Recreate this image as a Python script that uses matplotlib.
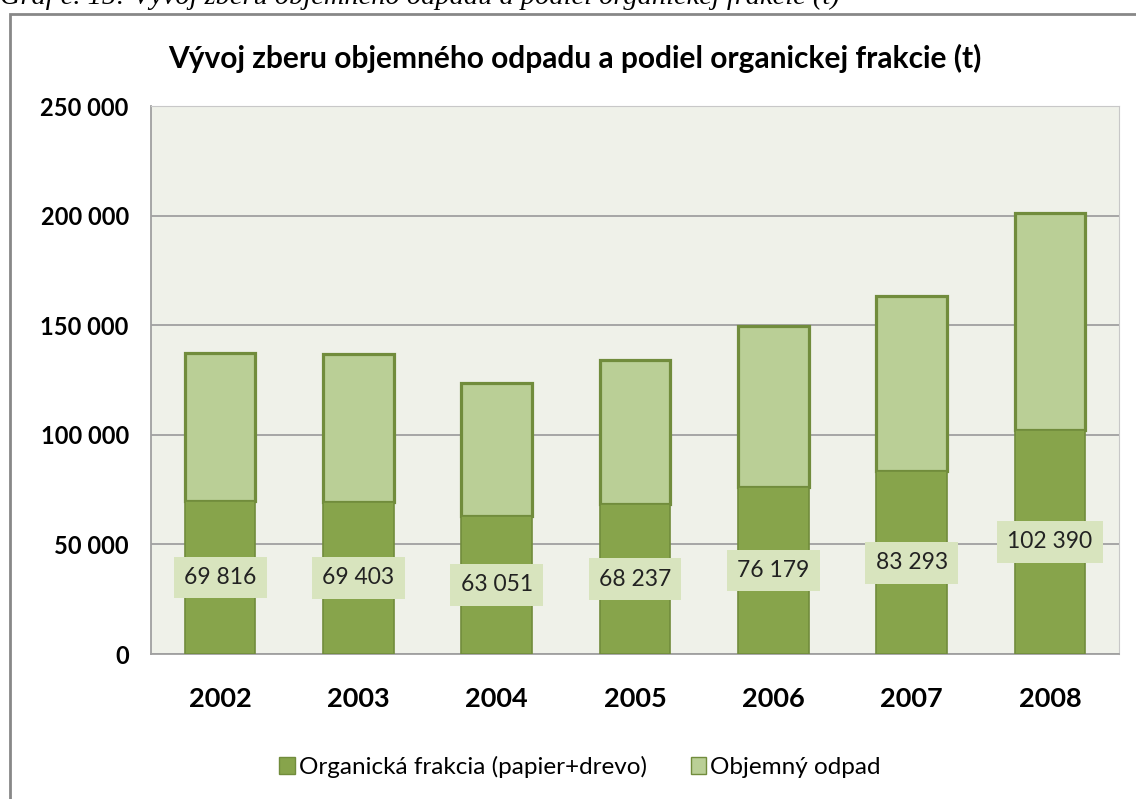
import numpy as np
import matplotlib.pyplot as plt
from matplotlib.patches import Rectangle, Patch

plt.rcParams['font.family'] = ['Lato', 'DejaVu Sans']

years = ['2002', '2003', '2004', '2005', '2006', '2007', '2008']
organic = [69816, 69403, 63051, 68237, 76179, 83293, 102390]
bulk = [67274, 67317, 60719, 65883, 73591, 80167, 98930]
yticks = [0, 50000, 100000, 150000, 200000, 250000]

dark = '#87A44B'
light = '#BACF96'
edge = '#718C3C'

fig = plt.figure(figsize=(11.36, 7.99), dpi=100)
ax = fig.add_axes([151/1136, 1 - 654/799, 968/1136, 548/799])

x = np.arange(len(years))
ax.bar(x, organic, width=0.51, color=dark, edgecolor=edge, linewidth=1.2, zorder=3,
       label='Organická frakcia (papier+drevo)')
ax.bar(x, bulk, width=0.51, bottom=organic, color=light, edgecolor=edge, linewidth=2.3,
       zorder=2, label='Objemný odpad')

for xi, v in zip(x, organic):
    s = '{:,}'.format(v).replace(',', ' ')
    ax.text(xi, v / 2, s, ha='center', va='center', fontsize=16.5, color='#222222', zorder=4,
            bbox=dict(boxstyle='square,pad=0.45', fc='#D8E4BE', ec='none'))

ax.set_xlim(-0.5, len(years) - 0.5)
ax.set_ylim(0, 250000)
ax.set_yticks(yticks)
ax.set_yticklabels(['{:,}'.format(t).replace(',', ' ') for t in yticks],
                   fontsize=17, fontweight='bold')
ax.set_xticks(x)
ax.set_xticklabels(years, fontsize=19.5, fontweight='bold')
ax.tick_params(axis='y', length=0, pad=16)
ax.tick_params(axis='x', length=0, pad=24)
ax.set_facecolor('#EFF1E9')
ax.yaxis.grid(True, color='#A0A0A0', linewidth=1.3, zorder=0)
ax.set_axisbelow(True)
for side in ['top', 'right']:
    ax.spines[side].set_color('#C8C8C8')
for side in ['left', 'bottom']:
    ax.spines[side].set_color('#A0A0A0')
    ax.spines[side].set_linewidth(1.3)

fig.text(575/1136, 1 - 58/799, 'Vývoj zberu objemného odpadu a podiel organickej frakcie (t)',
         ha='center', va='center', fontsize=21.5, fontweight='bold')

fig.text(0.0, 1 - 4/799, 'Graf č. 15: Vývoj zberu objemného odpadu a podiel organickej frakcie (t)',
         ha='left', va='baseline', fontsize=20.4, style='italic', family='Liberation Serif')

fig.patches.append(Rectangle((10/1136, -0.1), 1.2, 1 - 14/799 + 0.1,
                             transform=fig.transFigure, fill=False,
                             edgecolor='#888888', linewidth=2))

handles = [Patch(facecolor=dark, edgecolor=edge), Patch(facecolor=light, edgecolor=edge)]
fig.legend(handles, ['Organická frakcia (papier+drevo)', 'Objemný odpad'],
           loc='center', bbox_to_anchor=(580/1136, 1 - 767/799), ncol=2, frameon=False,
           fontsize=17.5, handlelength=0.65, handleheight=0.65, handletextpad=0.15,
           columnspacing=1.8)

fig.savefig('out.png', dpi=100)
